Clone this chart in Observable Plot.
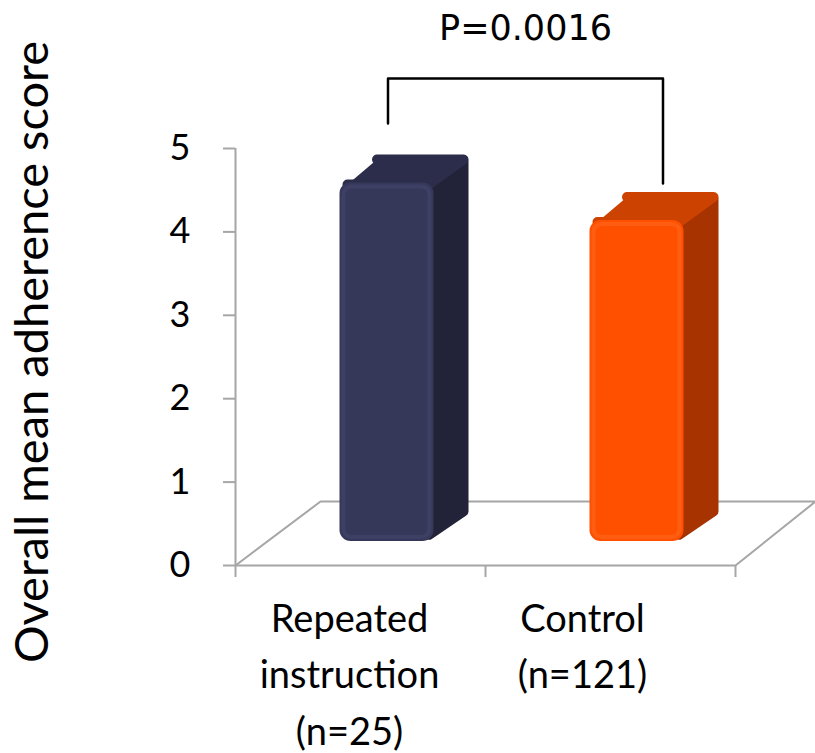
<!DOCTYPE html>
<html><head><meta charset="utf-8">
<script src="https://cdn.jsdelivr.net/npm/d3@7"></script>
<script src="https://cdn.jsdelivr.net/npm/@observablehq/plot@0.6"></script>
<style>body{margin:0;background:#fff;}</style>
</head><body><div id="chart"></div>
<script>
// ---- data ----
const categories = ["Repeated\ninstruction\n(n=25)", "Control\n(n=121)"];
const values = [4.30, 3.85];
const frontColors = ["#353858", "#ff5000"];
const edgeColors = ["#3d4064", "#ff5e12"];
const topColors = ["#2b2d4a", "#cc4200"];
const sideColors = ["#222338", "#a63300"];
const yTicks = [0, 1, 2, 3, 4, 5];
const yLabel = "Overall mean adherence score";
const pLabel = "P=0.0016";
const bracketX = [0.61, 0.61, 1.71, 1.71];
const bracketY = [5.30, 5.84, 5.84, 4.58];

// ---- 3D geometry (chart units / px) ----
const halfW = 0.188, depthX = 0.128, depthY = 0.30;
const frontDx = 26.5, frontDy = -24;
const floorPts = [[0, 0], [0.34, 0.767], [2.32, 0.767], [2, 0]];

const bars = values.map((v, i) => ({i, v, x1: i + 0.5 - halfW, x2: i + 0.5 + halfW}));
const tops = bars.flatMap(b => [[b.x1 + 0.03, b.v - 0.02], [b.x2 - 0.02, b.v - 0.02], [b.x2 + depthX - 0.01, b.v + depthY - 0.02], [b.x1 + depthX + 0.02, b.v + depthY - 0.02]]
  .map(([x, y]) => ({i: b.i, x, y})));
const sides = bars.flatMap(b => [[b.x2 - 0.02, 0.08], [b.x2 + depthX - 0.01, depthY + 0.06], [b.x2 + depthX - 0.01, b.v + depthY - 0.04], [b.x2 - 0.02, b.v - 0.04]]
  .map(([x, y]) => ({i: b.i, x, y})));
const floor = floorPts.map(([x, y]) => ({x, y}));
const bracket = bracketX.map((x, k) => ({x, y: bracketY[k]}));

const gray = "#a6a6a6";
const font = "Lato, 'Open Sans', sans-serif";
const plot = Plot.plot({
  width: 815, height: 753,
  marginLeft: 235, marginRight: 80, marginTop: 148, marginBottom: 188,
  x: {domain: [0, 2], axis: null},
  y: {domain: [0, 5], axis: null},
  style: {fontFamily: font, background: "white", overflow: "visible", color: "black"},
  marks: [
    Plot.line(floor, {x: "x", y: "y", stroke: gray, strokeWidth: 2}),
    Plot.ruleY([0], {stroke: gray, strokeWidth: 2}),
    Plot.ruleX([0], {stroke: gray, strokeWidth: 2}),
    Plot.axisY({ticks: yTicks, tickSize: 12, tickPadding: 33, stroke: gray, strokeWidth: 2, fill: "black", fontSize: 36, tickFormat: d => String(d)}),
    Plot.axisX({ticks: [0, 1, 2], tickSize: 12, tickFormat: () => "", stroke: gray, strokeWidth: 2}),
    Plot.line(sides, {x: "x", y: "y", z: "i", fill: d => sideColors[d.i], stroke: d => sideColors[d.i], strokeWidth: 10, strokeLinejoin: "round", dx: frontDx, dy: frontDy}),
    Plot.line(tops, {x: "x", y: "y", z: "i", fill: d => topColors[d.i], stroke: d => topColors[d.i], strokeWidth: 10, strokeLinejoin: "round", dx: frontDx, dy: frontDy}),
    Plot.rect(bars, {x1: "x1", x2: "x2", y1: 0, y2: "v", fill: d => frontColors[d.i], rx: 11, dx: frontDx, dy: frontDy}),
    Plot.rect(bars, {x1: "x1", x2: "x2", y1: 0, y2: "v", fill: "none", stroke: d => edgeColors[d.i], strokeWidth: 4, inset: 4, rx: 8, dx: frontDx, dy: frontDy}),
    Plot.line(bracket, {x: "x", y: "y", stroke: "black", strokeWidth: 2.5}),
    Plot.text([pLabel], {x: (bracketX[1] + bracketX[2]) / 2, y: bracketY[1], dy: -38, lineAnchor: "bottom", fontSize: 35, fontFamily: "DejaVu Sans", fill: "black"}),
    Plot.text([categories[0]], {x: 0.5, y: 0, dx: -11, dy: 26, lineAnchor: "top", fontSize: 38, lineHeight: 1.49, fill: "black"}),
    Plot.text([categories[1]], {x: 1.5, y: 0, dx: -28, dy: 26, lineAnchor: "top", fontSize: 38, lineHeight: 1.49, fill: "black"}),
    Plot.text([yLabel], {frameAnchor: "left", dx: -188, dy: -5, rotate: -90, textAnchor: "middle", lineAnchor: "bottom", fontSize: 47, fill: "black"})
  ]
});
document.getElementById("chart").append(plot);
</script>
</body></html>
